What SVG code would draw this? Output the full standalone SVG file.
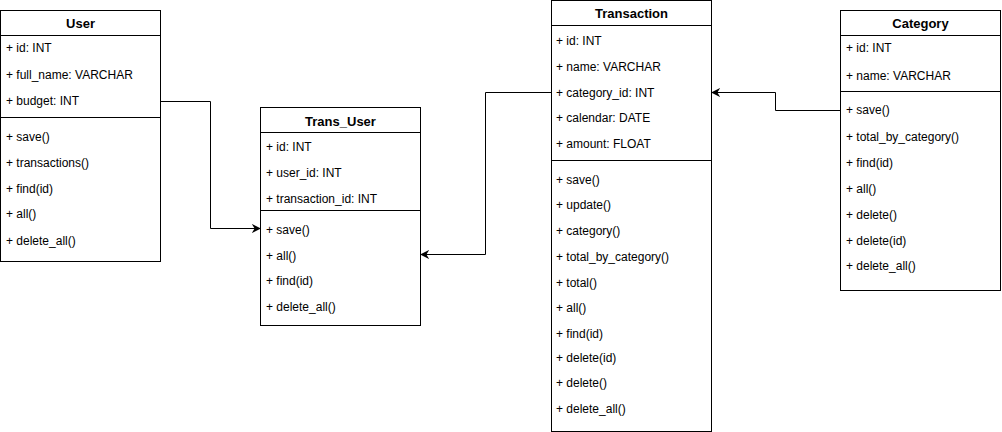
<svg xmlns="http://www.w3.org/2000/svg" width="1002" height="432" viewBox="0 0 1002 432">
  <style>
    .box { fill: #ffffff; stroke: #000000; stroke-width: 1; }
    .sep { stroke: #000000; stroke-width: 1; fill: none; }
    .title { font-family: "Liberation Sans", Arial, Helvetica, sans-serif; font-size: 13px; font-weight: bold; fill: #000000; text-anchor: middle; }
    .row { font-family: "Liberation Sans", Arial, Helvetica, sans-serif; font-size: 12px; fill: #000000; }
    .edge { fill: none; stroke: #000000; stroke-width: 1; }
  </style>
  <defs>
    <marker id="arrow" viewBox="0 0 10 10" refX="9" refY="5" markerWidth="9" markerHeight="9" markerUnits="userSpaceOnUse" orient="auto">
      <path d="M0,0 L10,5 L0,10 L3,5 Z" fill="#000000"/>
    </marker>
  </defs>

  <rect width="1002" height="432" fill="#ffffff"/>

  <!-- User class -->
  <g id="user">
    <rect class="box" x="0.5" y="10.5" width="160" height="251"/>
    <line class="sep" x1="0.5" y1="35.5" x2="160.5" y2="35.5"/>
    <line class="sep" x1="0.5" y1="117.5" x2="160.5" y2="117.5"/>
    <text class="title" x="80.5" y="27.5">User</text>
    <text class="row" x="6" y="52">+ id: INT</text>
    <text class="row" x="6" y="79">+ full_name: VARCHAR</text>
    <text class="row" x="6" y="105">+ budget: INT</text>
    <text class="row" x="6" y="141">+ save()</text>
    <text class="row" x="6" y="167">+ transactions()</text>
    <text class="row" x="6" y="193">+ find(id)</text>
    <text class="row" x="6" y="218">+ all()</text>
    <text class="row" x="6" y="245">+ delete_all()</text>
  </g>

  <!-- Trans_User join class -->
  <g id="trans_user">
    <rect class="box" x="260.5" y="107.5" width="160" height="218"/>
    <line class="sep" x1="260.5" y1="132.5" x2="420.5" y2="132.5"/>
    <line class="sep" x1="260.5" y1="210.5" x2="420.5" y2="210.5"/>
    <text class="title" x="340.5" y="125.5">Trans_User</text>
    <text class="row" x="266" y="151">+ id: INT</text>
    <text class="row" x="266" y="177">+ user_id: INT</text>
    <text class="row" x="266" y="203">+ transaction_id: INT</text>
    <text class="row" x="266" y="234">+ save()</text>
    <text class="row" x="266" y="260">+ all()</text>
    <text class="row" x="266" y="285">+ find(id)</text>
    <text class="row" x="266" y="311">+ delete_all()</text>
  </g>

  <!-- Transaction class -->
  <g id="transaction">
    <rect class="box" x="551.5" y="0.5" width="160" height="431"/>
    <line class="sep" x1="551.5" y1="25.5" x2="711.5" y2="25.5"/>
    <line class="sep" x1="551.5" y1="160.5" x2="711.5" y2="160.5"/>
    <text class="title" x="631.5" y="18">Transaction</text>
    <text class="row" x="556" y="45">+ id: INT</text>
    <text class="row" x="556" y="71">+ name: VARCHAR</text>
    <text class="row" x="556" y="97">+ category_id: INT</text>
    <text class="row" x="556" y="122">+ calendar: DATE</text>
    <text class="row" x="556" y="148">+ amount: FLOAT</text>
    <text class="row" x="556" y="184">+ save()</text>
    <text class="row" x="556" y="209">+ update()</text>
    <text class="row" x="556" y="235">+ category()</text>
    <text class="row" x="556" y="261">+ total_by_category()</text>
    <text class="row" x="556" y="287">+ total()</text>
    <text class="row" x="556" y="312">+ all()</text>
    <text class="row" x="556" y="338">+ find(id)</text>
    <text class="row" x="556" y="362">+ delete(id)</text>
    <text class="row" x="556" y="387">+ delete()</text>
    <text class="row" x="556" y="413">+ delete_all()</text>
  </g>

  <!-- Category class -->
  <g id="category">
    <rect class="box" x="840.5" y="10.5" width="160" height="280"/>
    <line class="sep" x1="840.5" y1="35.5" x2="1000.5" y2="35.5"/>
    <line class="sep" x1="840.5" y1="91.5" x2="1000.5" y2="91.5"/>
    <text class="title" x="920.5" y="27.5">Category</text>
    <text class="row" x="846" y="52">+ id: INT</text>
    <text class="row" x="846" y="80">+ name: VARCHAR</text>
    <text class="row" x="846" y="114">+ save()</text>
    <text class="row" x="846" y="141">+ total_by_category()</text>
    <text class="row" x="846" y="167">+ find(id)</text>
    <text class="row" x="846" y="193">+ all()</text>
    <text class="row" x="846" y="219">+ delete()</text>
    <text class="row" x="846" y="245">+ delete(id)</text>
    <text class="row" x="846" y="270">+ delete_all()</text>
  </g>

  <!-- Associations -->
  <g id="connectors">
    <path class="edge" d="M160.5,101.5 H210.5 V228.5 H260" marker-end="url(#arrow)"/>
    <path class="edge" d="M551.5,92.5 H485.5 V254.5 H421" marker-end="url(#arrow)"/>
    <path class="edge" d="M840.5,110.5 H775.5 V92.5 H712" marker-end="url(#arrow)"/>
  </g>
</svg>
